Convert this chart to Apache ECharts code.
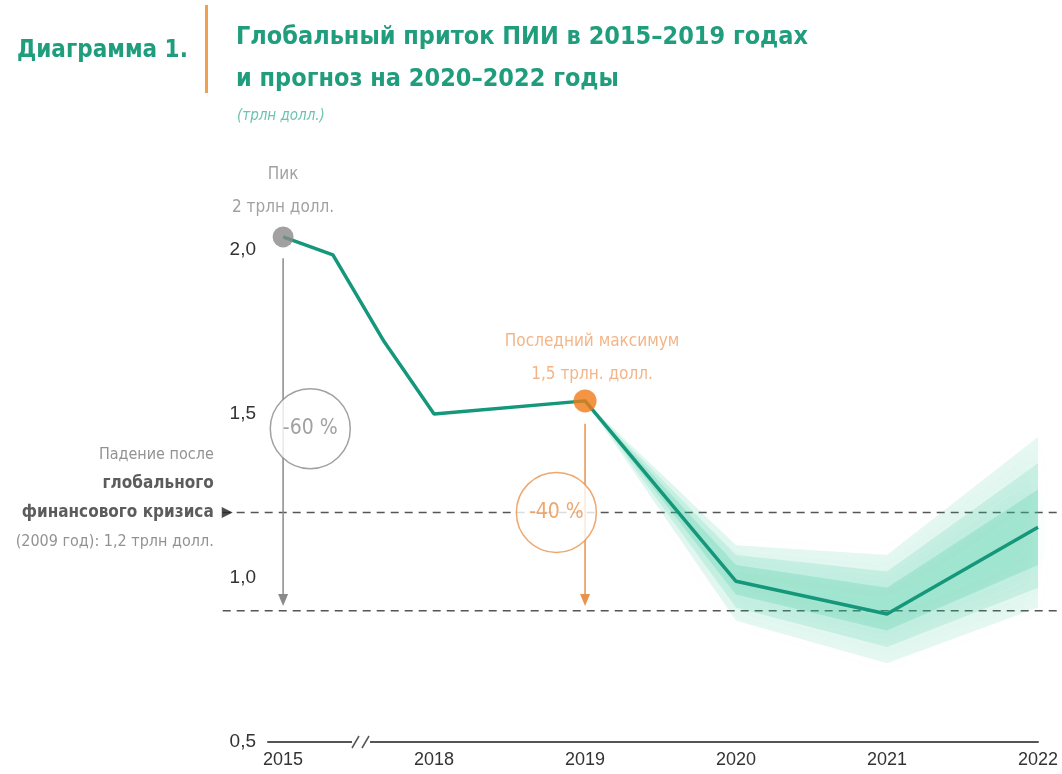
<!DOCTYPE html>
<html>
<head>
<meta charset="utf-8">
<script src="https://cdn.jsdelivr.net/npm/echarts@6/dist/echarts.min.js"></script>
<style>
  html, body { margin: 0; padding: 0; background: #fff; }
  #chart { width: 1062px; height: 774px; }
</style>
</head>
<body>
<div id="chart"></div>
<script>
// подписи оси X (2015 и 2018 разделены разрывом оси)
const yearTicks = [0, 1, 2, 3, 4, 5];
const yearLabels = ['2015', '2018', '2019', '2020', '2021', '2022'];

// фактический приток и прогноз, трлн долл.
const lineX = [0, 0.33, 0.67, 1, 2, 3, 4, 5];
const lineY = [2.04, 1.985, 1.72, 1.5, 1.54, 0.99, 0.89, 1.155];

// диапазон прогноза (2019–2022)
const bandX = [2, 3, 4, 5];
const outerUpper = [1.54, 1.10, 1.07, 1.43];
const outerLower = [1.54, 0.87, 0.74, 0.91];
const midUpper = [1.54, 1.07, 1.02, 1.35];
const midLower = [1.54, 0.91, 0.79, 0.97];
const innerUpper = [1.54, 1.04, 0.97, 1.27];
const innerLower = [1.54, 0.95, 0.84, 1.04];

// пунктирные уровни: [x начала, x конца, уровень]
const dashLevels = [[-0.4, 5.16, 1.2], [-0.4, 5.16, 0.9]];

// аннотации
const peakPoint = [0, 2.04];
const lastMaxPoint = [2, 1.54];
const grayArrow = [0, 1.975, 0.915];
const orangeArrow = [2, 1.47, 0.915];
const grayCircle = [0.18, 1.455];
const orangeCircle = [1.81, 1.2];
const crisisMarker = [-0.37, 1.2];

const NARROW = "'Liberation Sans Narrow', 'DejaVu Sans Condensed', 'Liberation Sans', sans-serif";
const GREEN = '#1f9d7d';
const LINE_GREEN = '#14977a';
const ORANGE = '#f07b16';
const ORANGE_LIGHT = '#e8924a';
const GRAY = '#8a8a8a';

const chart = echarts.init(document.getElementById('chart'));

function bandSeries(upper, lower, opacity) {
  return {
    type: 'custom',
    z: 2,
    silent: true,
    clip: false,
    data: [0],
    renderItem: (params, api) => {
      const pts = [];
      for (let i = 0; i < bandX.length; i++) pts.push(api.coord([bandX[i], upper[i]]));
      for (let i = bandX.length - 1; i >= 0; i--) pts.push(api.coord([bandX[i], lower[i]]));
      return {
        type: 'polygon',
        shape: { points: pts },
        style: {
          fill: 'rgba(45, 195, 150, ' + opacity + ')',
          shadowBlur: 22,
          shadowColor: 'rgba(45, 195, 150, ' + opacity + ')',
        },
      };
    },
  };
}

const dashSeries = {
  type: 'custom',
  z: 1,
  silent: true,
  clip: false,
  data: dashLevels,
  renderItem: (params, api) => {
    const a = api.coord([api.value(0), api.value(2)]);
    const b = api.coord([api.value(1), api.value(2)]);
    return {
      type: 'line',
      shape: { x1: a[0], y1: a[1], x2: b[0], y2: b[1] },
      style: { stroke: '#555', lineWidth: 1.5, lineDash: [8, 6] },
    };
  },
};

function arrowSeries(arrow, color) {
  return {
    type: 'custom',
    z: 3,
    silent: true,
    clip: false,
    data: [arrow],
    renderItem: (params, api) => {
      const top = api.coord([api.value(0), api.value(1)]);
      const tip = api.coord([api.value(0), api.value(2)]);
      return {
        type: 'group',
        children: [
          {
            type: 'line',
            shape: { x1: top[0], y1: top[1], x2: tip[0], y2: tip[1] - 4 },
            style: { stroke: color, lineWidth: 1.5 },
          },
          {
            type: 'polygon',
            shape: { points: [[tip[0] - 5, tip[1] - 12], [tip[0] + 5, tip[1] - 12], [tip[0], tip[1]]] },
            style: { fill: color },
          },
        ],
      };
    },
  };
}

function circleSeries(pos, text, color) {
  return {
    type: 'scatter',
    z: 4,
    silent: true,
    clip: false,
    symbolSize: 80,
    itemStyle: { color: '#fff', borderColor: color, borderWidth: 1.5 },
    label: {
      show: true,
      position: 'inside',
      formatter: text,
      color,
      fontFamily: NARROW,
      fontSize: 21,
    },
    data: [pos],
  };
}

chart.setOption({
  animation: false,
  title: [
    {
      text: 'Диаграмма 1.',
      left: 12,
      top: 34,
      textStyle: { color: GREEN, fontFamily: NARROW, fontWeight: 'bold', fontSize: 24 },
    },
    {
      text: 'Глобальный приток ПИИ в 2015–2019 годах\nи прогноз на 2020–2022 годы',
      left: 231,
      top: 11,
      textStyle: { color: GREEN, fontFamily: NARROW, fontWeight: 'bold', fontSize: 25, lineHeight: 42 },
    },
    {
      text: '(трлн долл.)',
      left: 232,
      top: 104,
      textStyle: { color: '#6cc3ae', fontFamily: NARROW, fontStyle: 'italic', fontWeight: 'normal', fontSize: 15 },
    },
  ],
  graphic: [
    { type: 'rect', left: 205, top: 5, shape: { width: 3, height: 88 }, style: { fill: '#f0a050' } },
    { type: 'rect', left: 352, top: 734, shape: { width: 18, height: 16 }, style: { fill: '#fff' }, z: 10 },
    { type: 'line', shape: { x1: 352, y1: 748, x2: 359, y2: 736 }, style: { stroke: '#555', lineWidth: 1.5 }, z: 11 },
    { type: 'line', shape: { x1: 362, y1: 748, x2: 369, y2: 736 }, style: { stroke: '#555', lineWidth: 1.5 }, z: 11 },
  ],
  grid: { left: 268, right: 24, top: 250, bottom: 32 },
  xAxis: {
    type: 'value',
    min: -0.1,
    max: 5,
    splitLine: { show: false },
    axisTick: { show: false },
    axisLine: { show: true, onZero: false, lineStyle: { color: '#555', width: 2 } },
    axisLabel: {
      customValues: yearTicks,
      formatter: (v) => yearLabels[yearTicks.indexOf(v)] || '',
      color: '#333',
      fontSize: 18,
      margin: 9,
      fontFamily: "'Liberation Sans', Arial, sans-serif",
    },
  },
  yAxis: {
    type: 'value',
    min: 0.5,
    max: 2.0,
    interval: 0.5,
    splitLine: { show: false },
    axisTick: { show: false },
    axisLine: { show: false },
    axisLabel: {
      formatter: (v) => v.toFixed(1).replace('.', ','),
      color: '#333',
      fontSize: 19,
      margin: 12,
      fontFamily: "'Liberation Sans', Arial, sans-serif",
    },
  },
  series: [
    dashSeries,
    bandSeries(outerUpper, outerLower, 0.12),
    bandSeries(midUpper, midLower, 0.15),
    bandSeries(innerUpper, innerLower, 0.2),
    {
      type: 'line',
      z: 5,
      silent: true,
      clip: false,
      symbol: 'none',
      lineStyle: { color: LINE_GREEN, width: 3.5 },
      data: lineX.map((x, i) => [x, lineY[i]]),
    },
    arrowSeries(grayArrow, GRAY),
    arrowSeries(orangeArrow, ORANGE_LIGHT),
    circleSeries(grayCircle, '-60 %', GRAY),
    circleSeries(orangeCircle, '-40 %', ORANGE_LIGHT),
    {
      type: 'scatter',
      z: 6,
      silent: true,
      clip: false,
      symbolSize: 21,
      itemStyle: { color: GRAY },
      label: {
        show: true,
        position: 'top',
        distance: 9,
        offset: [0, 7],
        formatter: 'Пик\n2 трлн долл.',
        color: GRAY,
        fontFamily: NARROW,
        fontSize: 17,
        lineHeight: 33,
      },
      data: [peakPoint],
    },
    {
      type: 'scatter',
      z: 6,
      silent: true,
      clip: false,
      symbolSize: 23,
      itemStyle: { color: ORANGE },
      label: {
        show: true,
        position: 'top',
        distance: 12,
        offset: [7, 14],
        formatter: 'Последний максимум\n1,5 трлн. долл.',
        color: '#f0a36a',
        fontFamily: NARROW,
        fontSize: 17,
        lineHeight: 33,
      },
      data: [lastMaxPoint],
    },
    {
      // ▶ и подпись уровня 2009 года
      type: 'scatter',
      z: 6,
      silent: true,
      clip: false,
      symbol: 'triangle',
      symbolRotate: -90,
      symbolSize: [11, 11],
      itemStyle: { color: '#222' },
      label: {
        show: true,
        position: 'left',
        distance: 8,
        offset: [0, -14],
        align: 'right',
        formatter: '{g|Падение после}\n{b|глобального}\n{b|финансового кризиса}\n{g|(2009 год): 1,2 трлн долл.}',
        rich: {
          g: { color: '#777', fontFamily: NARROW, fontSize: 16, lineHeight: 29, align: 'right' },
          b: { color: '#333', fontFamily: NARROW, fontSize: 17, fontWeight: 'bold', lineHeight: 29, align: 'right' },
        },
      },
      data: [crisisMarker],
    },
  ],
});
</script>
</body>
</html>
